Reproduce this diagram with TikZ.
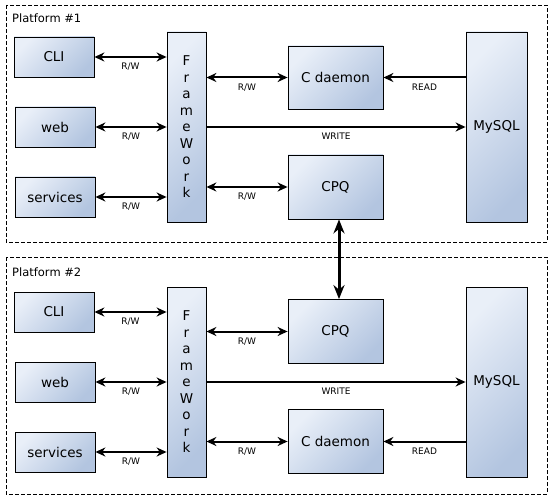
\documentclass[tikz,border=0pt]{standalone}
\usepackage{fontspec}
\setmainfont{DejaVu Sans}
\usetikzlibrary{arrows.meta}
\definecolor{boxtop}{HTML}{E9EFF8}
\definecolor{boxbot}{HTML}{B3C5E0}
\tikzset{
  block/.style={draw, line width=0.8pt, top color=boxtop, bottom color=boxbot,
    shading angle=45, inner sep=0pt, font=\fontsize{13.5}{15}\selectfont},
  rw/.style={line width=2pt, {Stealth[length=10pt,width=9pt]}-{Stealth[length=10pt,width=9pt]}},
  oneway/.style={line width=2pt, -{Stealth[length=10pt,width=9pt]}},
  link/.style={line width=3pt, {Stealth[length=14pt,width=11pt]}-{Stealth[length=14pt,width=11pt]}},
  lbl/.style={font=\fontsize{9}{10}\selectfont, below, inner sep=5pt},
  platform/.style={line width=0.7pt, dash pattern=on 4pt off 2pt},
  title/.style={anchor=west, inner sep=0pt, font=\fontsize{11.5}{13}\selectfont},
}
\begin{document}
\begin{tikzpicture}[x=1pt, y=-1pt]
    \useasboundingbox (0,0) rectangle (552,500);

    % Platform 1
    \draw[platform] (6,5) rectangle (547,242);
    \node[title] (p1) at (12,18) {Platform \#1};

    \node[block, minimum width=80pt, minimum height=40pt] (cli1) at (54,57) {CLI};
    \node[block, minimum width=80pt, minimum height=40pt] (web1) at (55,127) {web};
    \node[block, minimum width=80pt, minimum height=40pt] (srv1) at (55,197) {services};
    \node[block, minimum width=39pt, minimum height=190pt, align=center,
          font=\fontsize{13.5}{16.5}\selectfont] (fw1) at (186.5,127)
          {F\\r\\a\\m\\e\\W\\o\\r\\k};
    \node[block, minimum width=95pt, minimum height=63pt] (cd1) at (335.5,77.5) {C daemon};
    \node[block, minimum width=95pt, minimum height=64pt] (cpq1) at (335.5,187) {CPQ};
    \node[block, minimum width=61pt, minimum height=190pt] (db1) at (496.5,127) {MySQL};

    \draw[rw] (cli1.east) -- (fw1.west |- cli1.east) node[lbl, midway] {R/W};
    \draw[rw] (web1.east) -- (fw1.west |- web1.east) node[lbl, midway] {R/W};
    \draw[rw] (srv1.east) -- (fw1.west |- srv1.east) node[lbl, midway] {R/W};
    \draw[rw] (fw1.east |- cd1.west) -- (cd1.west) node[lbl, midway] {R/W};
    \draw[rw] (fw1.east |- cpq1.west) -- (cpq1.west) node[lbl, midway] {R/W};
    \draw[oneway] (fw1.east) -- (db1.west) node[lbl, midway] {WRITE};
    \draw[oneway] (db1.west |- cd1.east) -- (cd1.east) node[lbl, midway] {READ};

    % Platform 2
    \draw[platform] (6,257) rectangle (547,494);
    \node[title] (p2) at (12,272) {Platform \#2};

    \node[block, minimum width=80pt, minimum height=40pt] (cli2) at (54,312) {CLI};
    \node[block, minimum width=80pt, minimum height=40pt] (web2) at (55,382) {web};
    \node[block, minimum width=80pt, minimum height=40pt] (srv2) at (55,452) {services};
    \node[block, minimum width=39pt, minimum height=190pt, align=center,
          font=\fontsize{13.5}{16.5}\selectfont] (fw2) at (186.5,382)
          {F\\r\\a\\m\\e\\W\\o\\r\\k};
    \node[block, minimum width=95pt, minimum height=64pt] (cpq2) at (335.5,331.5) {CPQ};
    \node[block, minimum width=95pt, minimum height=64pt] (cd2) at (335.5,441.5) {C daemon};
    \node[block, minimum width=61pt, minimum height=190pt] (db2) at (496.5,382) {MySQL};

    \draw[rw] (cli2.east) -- (fw2.west |- cli2.east) node[lbl, midway] {R/W};
    \draw[rw] (web2.east) -- (fw2.west |- web2.east) node[lbl, midway] {R/W};
    \draw[rw] (srv2.east) -- (fw2.west |- srv2.east) node[lbl, midway] {R/W};
    \draw[rw] (fw2.east |- cpq2.west) -- (cpq2.west) node[lbl, midway] {R/W};
    \draw[rw] (fw2.east |- cd2.west) -- (cd2.west) node[lbl, midway] {R/W};
    \draw[oneway] (fw2.east) -- (db2.west) node[lbl, midway] {WRITE};
    \draw[oneway] (db2.west |- cd2.east) -- (cd2.east) node[lbl, midway] {READ};

    % CPQ link
    \draw[link] ([xshift=3.5pt]cpq1.south) -- ([xshift=3.5pt]cpq2.north);
\end{tikzpicture}
\end{document}
